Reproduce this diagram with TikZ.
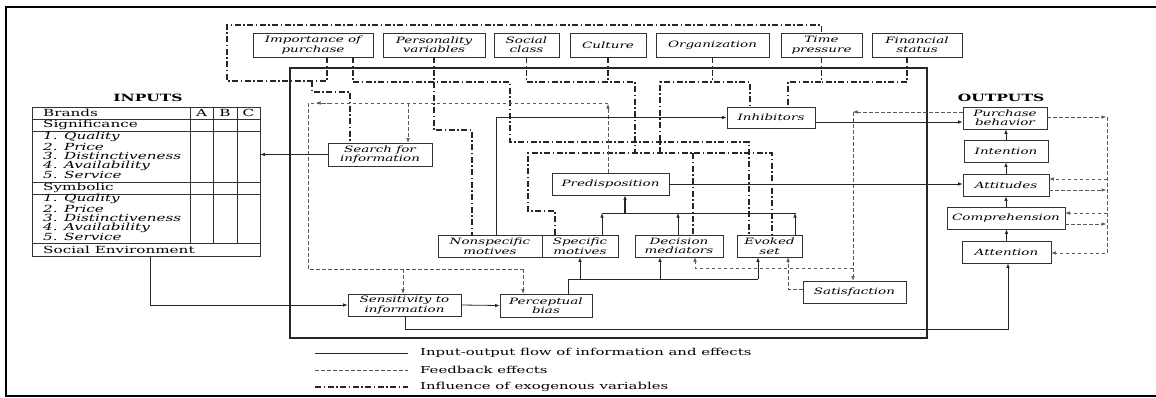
\documentclass[tikz,border=0pt]{standalone}
\usepackage{fontspec}
\setmainfont{DejaVu Serif}[FakeStretch=1.55]
\usetikzlibrary{arrows.meta}
\newcommand\bxfont{\fontsize{8.7}{9.5}\selectfont\itshape}
\newcommand\tbfont{\fontsize{9.8}{10}\selectfont}
\tikzset{
  box/.style={draw=black!80, line width=0.6pt, inner sep=0pt, align=center, font=\bxfont, minimum height=22},
  flow/.style={line width=0.8pt, draw=black!85},
  fb/.style={line width=0.5pt, draw=black!65, dash pattern=on 3.5pt off 2.5pt},
  exo/.style={line width=1.6pt, draw=black!85, dash pattern=on 6pt off 2.5pt on 1.5pt off 2.5pt},
  tip/.style={-{Latex[length=4.5pt,width=3.5pt]}},
  tline/.style={line width=0.6pt, draw=black!80},
  ttext/.style={anchor=west, inner sep=0pt, font=\tbfont},
  titem/.style={anchor=west, inner sep=0pt, font=\tbfont\itshape},
  head/.style={inner sep=0pt, font=\fontsize{10}{11}\selectfont\bfseries},
  legtext/.style={anchor=west, inner sep=0pt, font=\fontsize{9.6}{10}\selectfont}
}
\begin{document}
\begin{tikzpicture}[x=1pt,y=-1pt]
\useasboundingbox (0,0) rectangle (1156,397);
\draw[line width=1.6pt] (6,7) rectangle (1164,396);

% black box
\draw[line width=1.8pt, black!85] (290,68) rectangle (927,338);

% exogenous boxes
\node[box, minimum width=120, minimum height=24] (imp) at (313,45) {Importance of\\purchase};
\node[box, minimum width=102, minimum height=24] (pers) at (434,45) {Personality\\variables};
\node[box, minimum width=65, minimum height=24] (soc) at (526.5,45) {Social\\class};
\node[box, minimum width=76, minimum height=24] (cult) at (608,45) {Culture};
\node[box, minimum width=113, minimum height=24] (org) at (712.5,45) {Organization};
\node[box, minimum width=81, minimum height=24] (time) at (821.5,45) {Time\\pressure};
\node[box, minimum width=90, minimum height=24] (fin) at (917,45) {Financial\\status};

% hypothetical constructs
\node[box, minimum width=104, minimum height=23] (search) at (380,154.5) {Search for\\information};
\node[box, minimum width=88, minimum height=21] (inhib) at (771,117.5) {Inhibitors};
\node[box, minimum width=117] (pred) at (610.5,184) {Predisposition};
\node[box, minimum width=104] (nonspec) at (490,246) {Nonspecific\\motives};
\node[box, minimum width=76] (spec) at (580,246) {Specific\\motives};
\node[box, minimum width=88] (dec) at (679,246) {Decision\\mediators};
\node[box, minimum width=65] (evoked) at (769.5,246) {Evoked\\set};
\node[box, minimum width=113] (sens) at (404.5,305) {Sensitivity to\\information};
\node[box, minimum width=92, minimum height=23] (perc) at (546,305.5) {Perceptual\\bias};
\node[box, minimum width=103] (satis) at (854.5,292) {Satisfaction};

% outputs
\node[head] (outl) at (1001,98) {OUTPUTS};
\node[box, minimum width=84] (purch) at (1005,118) {Purchase\\behavior};
\node[box, minimum width=84] (intent) at (1006,151) {Intention};
\node[box, minimum width=86] (att) at (1006,185) {Attitudes};
\node[box, minimum width=118] (comp) at (1006,218) {Comprehension};
\node[box, minimum width=89] (atten) at (1006.5,252) {Attention};

% inputs table
\node[head] (inl) at (148,98) {INPUTS};
\node[draw=black!80, line width=0.6pt, minimum width=228, minimum height=149, inner sep=0pt] (tbl) at (146,181.5) {};
\foreach \yy in {119,131,182,194,243}
  \draw[tline] (tbl.west |- 0,\yy) -- (tbl.east |- 0,\yy);
\foreach \xx in {190,213,237}
  \draw[tline] (\xx,107) -- (\xx,243);
\node[ttext] (t1) at (43,113) {Brands};
\node[inner sep=0pt, font=\tbfont] (ta) at (201.5,113) {A};
\node[inner sep=0pt, font=\tbfont] (tb) at (225,113) {B};
\node[inner sep=0pt, font=\tbfont] (tc) at (248.5,113) {C};
\node[ttext] (t2) at (43,125) {Significance};
\node[titem] (t3) at (43,137) {1. Quality};
\node[titem] (t4) at (43,146.5) {2. Price};
\node[titem] (t5) at (43,156) {3. Distinctiveness};
\node[titem] (t6) at (43,165.5) {4. Availability};
\node[titem] (t7) at (43,175) {5. Service};
\node[ttext] (t8) at (43,188) {Symbolic};
\node[titem] (t9) at (43,199) {1. Quality};
\node[titem] (t10) at (43,208.5) {2. Price};
\node[titem] (t11) at (43,218) {3. Distinctiveness};
\node[titem] (t12) at (43,227.5) {4. Availability};
\node[titem] (t13) at (43,237) {5. Service};
\node[ttext] (t14) at (43,249.5) {Social Environment};
\coordinate (se) at (150,256);

% exogenous influence lines
\draw[exo] (327,0 |- imp.south) -- (327,81) -- (227,81) -- (227,25) -- (time.north |- 0,25) -- (time.north);
\draw[exo] (312,81) -- (312,92) -- (350,92) -- (350,0 |- search.north);
\draw[exo] (353,0 |- imp.south) -- (353,82) -- (510,82) -- (510,142) -- (749,142) -- (749,0 |- evoked.north);
\draw[exo] (pers.south) -- (pers.south |- 0,130) -- (472,130) -- (472,0 |- nonspec.north);
\draw[exo] (soc.south) -- (soc.south |- 0,82) -- (635,82) -- (635,153);
\draw[exo] (cult.south) -- (cult.south |- 0,82);
\draw[exo] (org.south) -- (org.south |- 0,82);
\draw[exo] (660,153) -- (660,82) -- (750,82) -- (750,0 |- inhib.north);
\draw[exo] (555,0 |- spec.north) -- (555,211) -- (528,211) -- (528,153) -- (772,153) -- (772,0 |- evoked.north);
\draw[exo] (693,153) -- (693,0 |- dec.north);
\draw[exo] (time.south) -- (time.south |- 0,82) -- (788,82) -- (788,0 |- inhib.north);
\draw[exo] (907,0 |- fin.south) -- (907,82) -- (time.south |- 0,82);

% feedback lines
\draw[fb,tip] (608,0 |- pred.north) -- (608,104);
\draw[fb] (608,103) -- (308,103) -- (308,269) -- (523,269);
\draw[fb,tip] (330,103) -- (316,103);
\draw[fb,tip] (523,269) -- (523,0 |- perc.north);
\draw[fb,tip] (403,269) -- (403,0 |- sens.north);
\draw[fb,tip] (408,103) -- (408,0 |- search.north);
\draw[fb,tip] (purch.west |- 0,112) -- (853,112);
\draw[fb,tip] (853,112) -- (853,0 |- satis.north);
\draw[fb,tip] (853,268) -- (695,268) -- (695,0 |- dec.south);
\draw[fb,tip] (satis.west |- 0,289) -- (788,289) -- (788,0 |- evoked.south);
\draw[fb,tip] (purch.east |- 0,117) -- (1106,117);
\draw[fb,tip] (1107,117) -- (1107,253) -- (atten.east |- 0,253);
\draw[fb,tip] (1107,179) -- (att.east |- 0,179);
\draw[fb,tip] (att.east |- 0,190) -- (1106,190);
\draw[fb,tip] (1107,213) -- (comp.east |- 0,213);
\draw[fb,tip] (comp.east |- 0,224) -- (1106,224);

% input-output flow
\draw[flow,tip] (search.west) -- (search.west -| tbl.east);
\draw[flow,tip] (se) |- (sens.west);
\draw[flow,tip] (sens.east) -- (perc.west);
\draw[flow] (568,0 |- perc.north) -- (568,279) -- (758,279);
\draw[flow,tip] (580,279) -- (580,0 |- spec.south);
\draw[flow,tip] (660,279) -- (660,0 |- dec.south);
\draw[flow,tip] (758,279) -- (758,0 |- evoked.south);
\draw[flow] (602,213) -- (796,213);
\draw[flow,tip] (602,0 |- spec.north) -- (602,213);
\draw[flow,tip] (678,0 |- dec.north) -- (678,213);
\draw[flow,tip] (795,0 |- evoked.north) -- (795,213);
\draw[flow,tip,line width=1.2pt] (625,213) -- (625,0 |- pred.south);
\draw[flow,tip] (496,0 |- nonspec.north) -- (496,117.5) -- (inhib.west);
\draw[flow,tip] (inhib.east |- 0,122) -- (purch.west |- 0,122);
\draw[flow,tip] (pred.east) -- (pred.east -| att.west);
\draw[flow,tip] (405,0 |- sens.south) -- (405,329) -- (1008,329) -- (1008,0 |- atten.south);
\draw[flow,tip] (atten.north) -- (atten.north |- comp.south);
\draw[flow,tip] (comp.north) -- (comp.north |- att.south);
\draw[flow,tip] (att.north) -- (att.north |- intent.south);
\draw[flow,tip] (intent.north) -- (intent.north |- purch.south);

% legend
\coordinate (l1a) at (315,353); \coordinate (l1b) at (408,353);
\coordinate (l2a) at (315,370); \coordinate (l2b) at (408,370);
\coordinate (l3a) at (315,387); \coordinate (l3b) at (408,387);
\draw[flow] (l1a) -- (l1b);
\draw[fb] (l2a) -- (l2b);
\draw[exo] (l3a) -- (l3b);
\node[legtext] (lg1) at (420,353) {Input-output flow of information and effects};
\node[legtext] (lg2) at (420,370) {Feedback effects};
\node[legtext] (lg3) at (420,387) {Influence of exogenous variables};
\end{tikzpicture}
\end{document}
